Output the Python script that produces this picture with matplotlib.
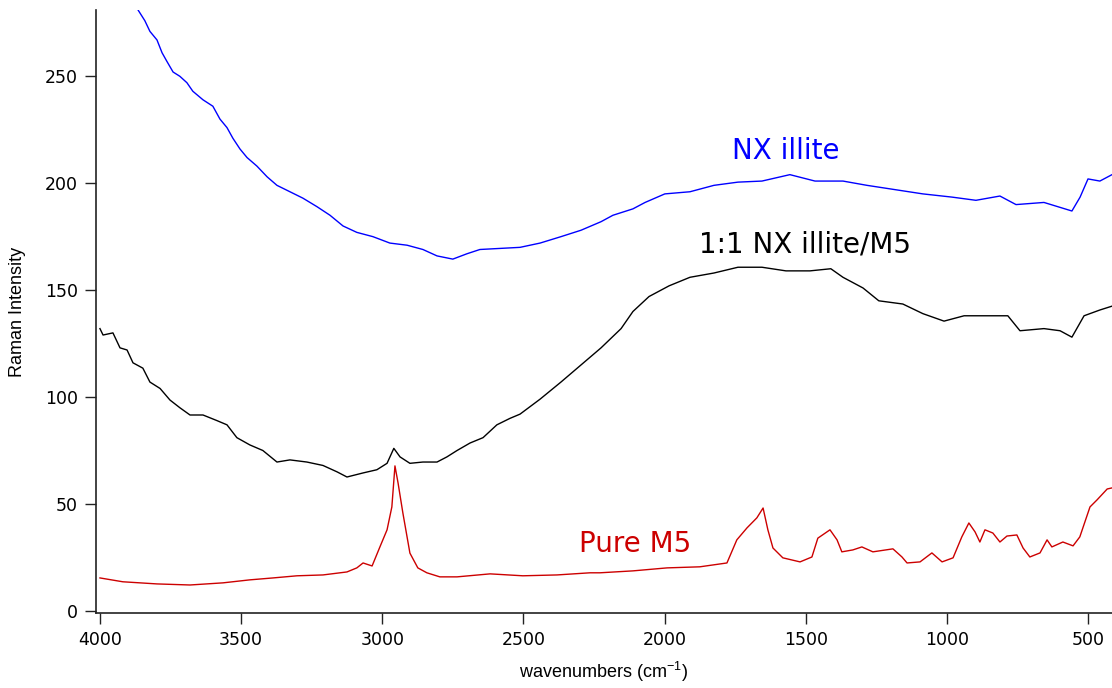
import matplotlib
matplotlib.use("Agg")
import matplotlib.pyplot as plt

# ---- data ----
nx_x = [3880, 3865, 3841, 3823, 3798, 3780, 3763, 3741, 3717, 3692, 3671, 3635, 3600,
        3575, 3550, 3529, 3504, 3479, 3444, 3408, 3373, 3327, 3281, 3231, 3185, 3139,
        3090, 3033, 2973, 2912, 2856, 2806, 2750, 2700, 2654, 2583, 2512, 2441, 2367,
        2296, 2225, 2183, 2112, 2069, 1999, 1910, 1825, 1740, 1655, 1556, 1467, 1368,
        1283, 1184, 1085, 982, 897, 812, 755, 656, 557, 528, 500, 458, 415]
nx_y = [288, 281, 276, 271, 267, 261, 257, 252, 250, 247, 243, 239, 236,
        230, 226, 221, 216, 212, 208, 203, 199, 196, 193, 189, 185, 180,
        177, 175, 172, 171, 169, 166, 164.5, 167, 169, 169.5, 170, 172, 175,
        178, 182, 185, 188, 191, 195, 196, 199, 200.5, 201, 204, 201, 201,
        199, 197, 195, 193.5, 192, 194, 190, 191, 187, 193.5, 202, 201, 204]

mix_x = [4000, 3989, 3954, 3929, 3904, 3883, 3848, 3823, 3787, 3752, 3717, 3681, 3635,
         3586, 3550, 3515, 3469, 3423, 3373, 3327, 3267, 3210, 3160, 3125, 3068, 3019,
         2983, 2959, 2937, 2902, 2856, 2806, 2771, 2735, 2689, 2643, 2594, 2548, 2512,
         2441, 2367, 2296, 2225, 2154, 2112, 2055, 1984, 1910, 1825, 1740, 1655, 1570,
         1485, 1411, 1368, 1297, 1241, 1156, 1085, 1010, 939, 854, 784, 741, 656, 599,
         557, 514, 458, 415]
mix_y = [132, 129, 130, 123, 122, 116, 113.5, 107, 104, 98.6, 95, 91.6, 91.6,
         89, 87, 81, 77.6, 75, 69.6, 70.6, 69.6, 68, 65, 62.6, 64.5, 66,
         69, 76, 72, 69, 69.6, 69.6, 72, 75, 78.5, 81, 87, 90, 92,
         99, 107, 115, 123, 132, 140, 147, 152, 156, 158, 160.7, 160.7, 159,
         159, 160, 156, 151, 145, 143.5, 139, 135.5, 138, 138, 138, 131, 132, 131,
         128, 138, 140.7, 142.5]

m5_x = [4000, 3919, 3798, 3681, 3564, 3469, 3387, 3302, 3210, 3125, 3090, 3068, 3036,
        3008, 2983, 2966, 2955, 2944, 2927, 2902, 2874, 2842, 2796, 2735, 2618, 2502,
        2381, 2264, 2229, 2112, 1991, 1875, 1779, 1744, 1708, 1673, 1651, 1634, 1616,
        1581, 1520, 1478, 1457, 1414, 1389, 1372, 1333, 1301, 1262, 1191, 1159, 1141,
        1095, 1053, 1017, 978, 947, 922, 900, 883, 865, 837, 812, 787, 752, 730, 706,
        670, 645, 628, 589, 553, 529, 493, 468, 432, 415]
m5_y = [15.4, 13.6, 12.6, 12.1, 13.1, 14.5, 15.4, 16.4, 16.8, 18.2, 20.1, 22.4, 21,
        30, 37.9, 48.6, 67.8, 59.8, 45.8, 27, 20.1, 17.8, 15.9, 15.9, 17.3, 16.4,
        16.8, 17.8, 17.8, 18.7, 20.1, 20.6, 22.4, 33.2, 38.8, 43.5, 48.1, 37.9, 29.4,
        24.8, 22.9, 25.2, 34, 37.9, 33.2, 27.6, 28.5, 29.9, 27.6, 29, 25.2, 22.4,
        22.9, 27.1, 22.9, 24.8, 34.6, 41.1, 36.9, 32.2, 37.9, 36.4, 32.2, 35, 35.5, 29.4, 25.2,
        27.1, 33.2, 29.9, 32.2, 30.4, 34.6, 48.6, 51.9, 57, 57.5]

x_ticks = [4000, 3500, 3000, 2500, 2000, 1500, 1000, 500]
y_ticks = [0, 50, 100, 150, 200, 250]

BLUE = "#0000ff"
BLACK = "#000000"
RED = "#cc0000"

fig = plt.figure(figsize=(11.12, 6.88), dpi=100)
ax = fig.add_axes([96 / 1112, 1 - 613 / 688, 1 - 96 / 1112, (613 - 10) / 688])

ax.plot(nx_x, nx_y, color=BLUE, lw=1.0)
ax.plot(mix_x, mix_y, color=BLACK, lw=1.0)
ax.plot(m5_x, m5_y, color=RED, lw=1.0)

ax.set_xlim(4014, 415)
ax.set_ylim(-1, 281)

for s in ["top", "right"]:
    ax.spines[s].set_visible(False)
for s in ["left", "bottom"]:
    ax.spines[s].set_linewidth(1.2)
    ax.spines[s].set_color("#222222")

ax.set_xticks(x_ticks)
ax.set_yticks(y_ticks)
ax.tick_params(axis="both", direction="out", length=8, width=1.0, color="#222222",
               labelsize=12.5, pad=5)

lab_font = dict(family="Liberation Sans", size=13)
ax.set_ylabel("Raman Intensity", **lab_font)
ax.yaxis.set_label_coords(-0.077, 0.5)
ax.yaxis.label.set_verticalalignment("center")
ax.set_xlabel(r"wavenumbers (cm$^{\mathregular{-1}}$)", labelpad=8, **lab_font)

ax.text(1570, 215, "NX illite", color=BLUE, fontsize=20, ha="center", va="center")
ax.text(1503, 171.5, "1:1 NX illite/M5", color=BLACK, fontsize=20, ha="center", va="center")
ax.text(2105, 31.3, "Pure M5", color=RED, fontsize=20, ha="center", va="center")

fig.savefig("out.png", dpi=100)
